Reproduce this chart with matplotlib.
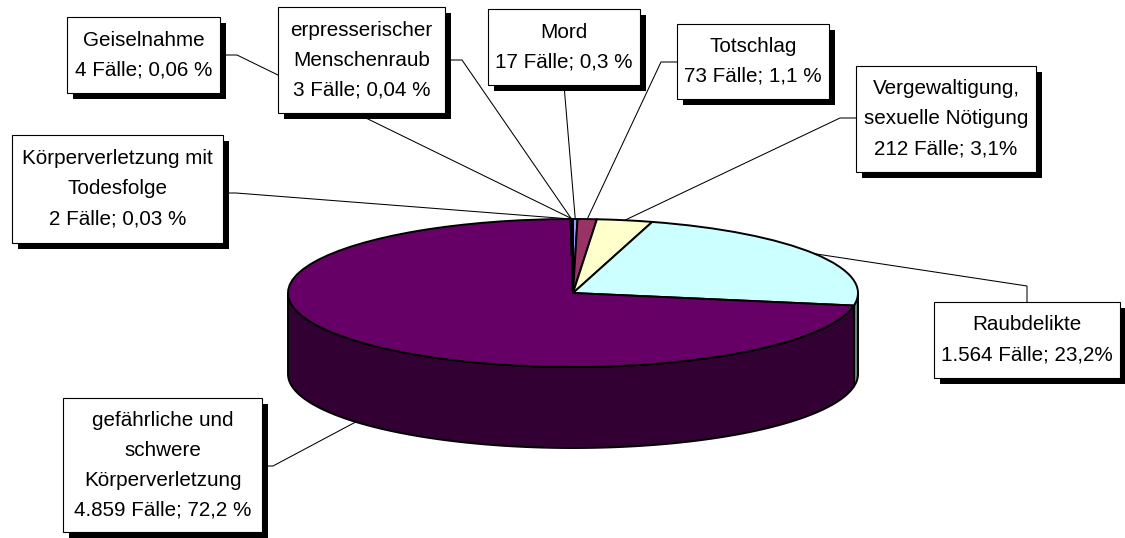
import numpy as np
import matplotlib
matplotlib.use("Agg")
import matplotlib.pyplot as plt
from matplotlib.patches import Wedge, Polygon, Rectangle
from matplotlib.transforms import Affine2D

# ---------------- data ----------------
categories = [
    "Mord",
    "Totschlag",
    "Vergewaltigung,\nsexuelle Nötigung",
    "Raubdelikte",
    "gefährliche und\nschwere\nKörperverletzung",
    "Körperverletzung mit\nTodesfolge",
    "erpresserischer\nMenschenraub",
    "Geiselnahme",
]
cases = [17, 73, 212, 1564, 4859, 2, 3, 4]
case_labels = ["17", "73", "212", "1.564", "4.859", "2", "3", "4"]
percent_labels = ["0,3 %", "1,1 %", "3,1%", "23,2%", "72,2 %", "0,03 %", "0,04 %", "0,06 %"]
colors = ["#9999FF", "#993366", "#FFFFCC", "#CCFFFF", "#660066", "#FF8080", "#0066CC", "#CCCCFF"]

# ---------------- layout (pixels) ----------------
W, H = 1125, 538
cx, cy = 573, 293      # centre of top ellipse
rx, ry = 285, 74       # radii of top ellipse
depth = 81             # thickness of the pie

# label boxes: (x0, y0, x1, y1), leader start, leader elbow
boxes = [
    ((488, 9, 640, 85),    (564, 85),  None),
    ((677, 24, 829, 99),   (677, 62),  (661, 62)),
    ((856, 66, 1036, 172), (856, 118), (840, 118)),
    ((934, 302, 1120, 378), (1027, 302), (1027, 286)),
    ((63, 398, 262, 532),  (262, 466), (273, 466)),
    ((12, 135, 223, 243),  (223, 193), (236, 193)),
    ((278, 7, 445, 113),   (445, 60),  (462, 60)),
    ((67, 17, 220, 93),    (220, 55),  (237, 55)),
]

plt.rcParams['font.family'] = ['Liberation Sans', 'DejaVu Sans']
fig = plt.figure(figsize=(W / 100, H / 100), dpi=100)
ax = fig.add_axes([0, 0, 1, 1])
ax.set_xlim(0, W)
ax.set_ylim(H, 0)
ax.axis("off")


def darken(hexcol, f=0.5):
    r, g, b = matplotlib.colors.to_rgb(hexcol)
    return (r * f, g * f, b * f)


def rim(theta_deg, dy=0.0):
    t = np.radians(theta_deg)
    return cx + rx * np.cos(t), cy - ry * np.sin(t) + dy


values = np.array(cases, dtype=float)
fracs = values / values.sum()
ends = 90 - 360 * np.cumsum(fracs)
starts = np.concatenate([[90], ends[:-1]])

# side faces (front half, angles in [-180, 0])
for a_start, a_end, col in zip(starts, ends, colors):
    for shift in (0, 360, -360):
        lo = max(a_end + shift, -180)
        hi = min(a_start + shift, 0)
        if hi - lo > 1e-6:
            th = np.linspace(lo, hi, 200)
            xs, ys = rim(th)
            pts = np.column_stack([np.concatenate([xs, xs[::-1]]),
                                   np.concatenate([ys, (ys + depth)[::-1]])])
            ax.add_patch(Polygon(pts, closed=True, facecolor=darken(col),
                                 edgecolor="black", linewidth=1.4, zorder=1,
                                 joinstyle="round"))

# top face
tr = Affine2D().scale(rx, -ry).translate(cx, cy) + ax.transData
for a_start, a_end, col in zip(starts, ends, colors):
    w = Wedge((0, 0), 1, a_end, a_start, facecolor=col, edgecolor="black",
              linewidth=1.4, transform=tr, zorder=2, joinstyle="round")
    ax.add_patch(w)

# leader lines
for (box, start, elbow), a_start, a_end in zip(boxes, starts, ends):
    mid = (a_start + a_end) / 2
    ex, ey = rim(mid, depth if np.sin(np.radians(mid)) < 0 else 0)
    pts = [start] + ([elbow] if elbow else []) + [(ex, ey)]
    xs, ys = zip(*pts)
    ax.plot(xs, ys, color="black", linewidth=0.75, zorder=3,
            solid_capstyle="butt")

# label boxes
for (box, start, elbow), name, cl, pl in zip(boxes, categories, case_labels, percent_labels):
    x0, y0, x1, y1 = box
    ax.add_patch(Rectangle((x0 + 6, y0 + 6), x1 - x0, y1 - y0,
                           facecolor="black", edgecolor="none", zorder=4))
    ax.add_patch(Rectangle((x0, y0), x1 - x0, y1 - y0, facecolor="white",
                           edgecolor="black", linewidth=0.8, zorder=5))
    lines = name.split("\n") + [f"{cl} Fälle; {pl}"]
    n = len(lines)
    ymid = (y0 + y1) / 2
    for i, ln in enumerate(lines):
        ty = ymid + (i - (n - 1) / 2) * 30
        ax.text((x0 + x1) / 2, ty, ln, ha="center", va="center",
                fontsize=14.9, color="black", zorder=6)

fig.savefig("out.png", dpi=100, facecolor="white")
